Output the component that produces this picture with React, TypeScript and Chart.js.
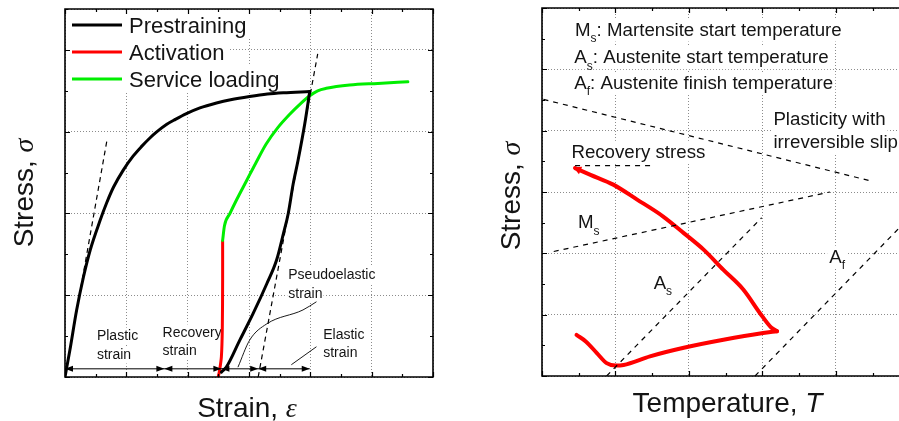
import React, { useEffect, useRef } from 'react';
import { Chart, registerables } from 'chart.js';
Chart.register(...registerables);

const SANS = '"Liberation Sans", Arial, sans-serif';
const SERIF = '"Liberation Serif", "Times New Roman", serif';
const INK = '#141414';

// ---------- Left panel data (strain vs stress) ----------
const prestrainLoadX = [0, 0.08, 0.19, 0.3, 0.41, 0.57, 0.68, 0.79, 0.95, 1.11, 1.25, 1.38, 1.5, 1.66, 1.8, 1.98, 2.2, 2.47, 2.7, 3.01, 3.3, 3.56, 3.99];
const prestrainLoadY = [0, 0.33, 0.82, 1.22, 1.55, 1.91, 2.13, 2.32, 2.53, 2.7, 2.82, 2.92, 3.0, 3.09, 3.15, 3.22, 3.29, 3.35, 3.39, 3.43, 3.46, 3.475, 3.49];
const prestrainUnloadX = [2.55, 2.63, 2.85, 3.07, 3.29, 3.45, 3.56, 3.64, 3.72, 3.8, 3.91, 3.99];
const prestrainUnloadY = [0.06, 0.12, 0.45, 0.78, 1.14, 1.43, 1.75, 2.0, 2.36, 2.65, 3.1, 3.49];
const activationX = [2.57, 2.57, 2.565, 2.55, 2.52, 2.49];
const activationY = [1.67, 1.2, 0.6, 0.25, 0.08, -0.03];
const serviceX = [2.57, 2.6, 2.69, 2.8, 2.96, 3.12, 3.28, 3.47, 3.66, 3.85, 3.99, 4.12, 4.26, 4.64, 5.1, 5.59];
const serviceY = [1.67, 1.85, 2.0, 2.17, 2.4, 2.63, 2.85, 3.05, 3.21, 3.35, 3.44, 3.5, 3.53, 3.57, 3.59, 3.61];
const tangentAX = [0, 0.69];
const tangentAY = [0, 2.92];
const tangentBX = [3.15, 4.12];
const tangentBY = [0, 3.95];
const strainBounds = [0, 1.62, 2.55, 3.15, 3.99];
const strainArrowLevel = 0.1;
const pseudoLeaderX = [2.82, 3.01, 3.29, 3.88, 4.1];
const pseudoLeaderY = [0.12, 0.45, 0.65, 0.82, 0.92];
const elasticLeaderX = [3.69, 4.1];
const elasticLeaderY = [0.15, 0.37];
const leftLegend = ['Prestraining', 'Activation', 'Service loading'];

// ---------- Right panel data (temperature vs stress) ----------
const recoveryLowerT = [0.47, 0.6, 0.75, 0.88, 1.0, 1.11, 1.47, 1.93, 2.47, 3.01, 3.2];
const recoveryLowerS = [0.67, 0.56, 0.37, 0.21, 0.17, 0.18, 0.32, 0.46, 0.59, 0.7, 0.73];
const recoveryUpperT = [0.45, 0.66, 0.97, 1.29, 1.65, 1.93, 2.2, 2.47, 2.74, 2.97, 3.12, 3.2];
const recoveryUpperS = [3.39, 3.28, 3.12, 2.88, 2.6, 2.33, 2.06, 1.73, 1.41, 1.02, 0.79, 0.73];
const plasticityT = [0.02, 4.51];
const plasticityS = [4.51, 3.17];
const msLineT = [0.16, 3.92];
const msLineS = [2.03, 3.0];
const asLineT = [0.88, 2.99];
const asLineS = [0, 2.58];
const afLineT = [2.9, 4.86];
const afLineS = [0, 2.41];
const recoveryStressT = [0.45, 1.53];
const recoveryStressS = [3.43, 3.43];

type Seg = { t: string; k?: 'sub' | 'greek' | 'ital' };

const pts = (xs: number[], ys: number[]) => xs.map((x, i) => ({ x, y: ys[i] }));

function segFont(s: Seg, size: number) {
  if (s.k === 'sub') return `${Math.round(size * 0.66)}px ${SANS}`;
  if (s.k === 'greek') return `italic ${size}px ${SERIF}`;
  if (s.k === 'ital') return `italic ${size}px ${SANS}`;
  return `${size}px ${SANS}`;
}
function measureSegs(ctx: CanvasRenderingContext2D, segs: Seg[], size: number) {
  let w = 0;
  for (const s of segs) {
    ctx.font = segFont(s, size);
    w += ctx.measureText(s.t).width;
  }
  return w;
}
function drawSegs(ctx: CanvasRenderingContext2D, segs: Seg[], x: number, y: number, size: number) {
  let cx = x;
  ctx.fillStyle = INK;
  ctx.textBaseline = 'alphabetic';
  ctx.textAlign = 'left';
  for (const s of segs) {
    ctx.font = segFont(s, size);
    ctx.fillText(s.t, cx, y + (s.k === 'sub' ? size * 0.34 : 0));
    cx += ctx.measureText(s.t).width;
  }
}

type Label = { segs: Seg[]; x: number; y: number };

function drawLabels(chart: any, labels: Label[], size: number, pad: number) {
  const ctx: CanvasRenderingContext2D = chart.ctx;
  const xs = chart.scales.x;
  const ys = chart.scales.y;
  ctx.save();
  for (const l of labels) {
    const px = xs.getPixelForValue(l.x);
    const py = ys.getPixelForValue(l.y);
    const w = measureSegs(ctx, l.segs, size);
    ctx.fillStyle = '#ffffff';
    ctx.fillRect(px - pad, py - size * 0.9, w + 2 * pad, size * 1.22);
    drawSegs(ctx, l.segs, px, py, size);
  }
  ctx.restore();
}

function drawFrame(chart: any, sides: { right: boolean }) {
  const ctx: CanvasRenderingContext2D = chart.ctx;
  const a = chart.chartArea;
  const xs = chart.scales.x;
  const ys = chart.scales.y;
  ctx.save();
  ctx.strokeStyle = '#000';
  ctx.lineWidth = 1.2;
  ctx.beginPath();
  for (let v = xs.min; v <= xs.max + 1e-9; v += 0.5) {
    const p = Math.round(xs.getPixelForValue(v)) + 0.5;
    const len = Math.abs(v - Math.round(v)) < 1e-6 ? 5 : 3;
    ctx.moveTo(p, a.bottom);
    ctx.lineTo(p, a.bottom - len);
    ctx.moveTo(p, a.top);
    ctx.lineTo(p, a.top + len);
  }
  for (let v = ys.min; v <= ys.max + 1e-9; v += 0.5) {
    const p = Math.round(ys.getPixelForValue(v)) + 0.5;
    const len = Math.abs(v - Math.round(v)) < 1e-6 ? 5 : 3;
    ctx.moveTo(a.left, p);
    ctx.lineTo(a.left + len, p);
    if (sides.right) {
      ctx.moveTo(a.right, p);
      ctx.lineTo(a.right - len, p);
    }
  }
  ctx.stroke();
  ctx.lineWidth = 1.6;
  ctx.beginPath();
  if (sides.right) {
    ctx.rect(a.left, a.top, a.right - a.left, a.bottom - a.top);
  } else {
    ctx.moveTo(a.right + 2, a.top);
    ctx.lineTo(a.left, a.top);
    ctx.lineTo(a.left, a.bottom);
    ctx.lineTo(a.right + 2, a.bottom);
  }
  ctx.stroke();
  ctx.restore();
}

function drawAxisTitles(chart: any, xt: Seg[], yt: Seg[], xBase: number, xShift: number, yBase: number, yShift: number) {
  const ctx: CanvasRenderingContext2D = chart.ctx;
  const a = chart.chartArea;
  const size = 28;
  ctx.save();
  const wx = measureSegs(ctx, xt, size);
  drawSegs(ctx, xt, (a.left + a.right) / 2 + xShift - wx / 2, a.bottom + xBase, size);
  const wy = measureSegs(ctx, yt, size);
  ctx.translate(a.left - yBase, (a.top + a.bottom) / 2 + yShift);
  ctx.rotate(-Math.PI / 2);
  drawSegs(ctx, yt, -wy / 2, 0, size);
  ctx.restore();
}

function lineDs(xs: number[], ys: number[], color: string, width: number, extra: any = {}) {
  return {
    data: pts(xs, ys),
    showLine: true,
    borderColor: color,
    backgroundColor: color,
    borderWidth: width,
    pointRadius: 0,
    tension: 0,
    ...extra,
  };
}
const smooth = { cubicInterpolationMode: 'monotone', borderCapStyle: 'round', borderJoinStyle: 'round' };

function baseOptions(padding: any, xmax: number, ymax: number) {
  const grid = { color: '#8c8c8c', lineWidth: 1, drawTicks: false };
  const border = { display: false, dash: [1, 2] };
  return {
    animation: false,
    responsive: false,
    maintainAspectRatio: false,
    events: [],
    layout: { padding },
    plugins: { legend: { display: false }, tooltip: { enabled: false } },
    scales: {
      x: { type: 'linear', min: 0, max: xmax, ticks: { display: false, stepSize: 1 }, grid, border },
      y: { type: 'linear', min: 0, max: ymax, ticks: { display: false, stepSize: 1 }, grid, border },
    },
  };
}

function leftConfig() {
  const dash = { borderDash: [5, 4] };
  const overlay = {
    id: 'leftOverlay',
    beforeDatasetsDraw(chart: any) {
      const ctx: CanvasRenderingContext2D = chart.ctx;
      const a = chart.chartArea;
      const colors = ['#000000', '#ff0000', '#00ee00'];
      ctx.save();
      leftLegend.forEach((lab, i) => {
        const cy = a.top + 16 + 27 * i;
        ctx.font = `22px ${SANS}`;
        const w = ctx.measureText(lab).width;
        ctx.fillStyle = '#fff';
        ctx.fillRect(a.left + 1, cy - 13.5, 64 + w + 3, 27);
        ctx.strokeStyle = colors[i];
        ctx.lineWidth = 3;
        ctx.beginPath();
        ctx.moveTo(a.left + 7, cy);
        ctx.lineTo(a.left + 57, cy);
        ctx.stroke();
        drawSegs(ctx, [{ t: lab }], a.left + 64, cy + 8, 22);
      });
      ctx.restore();
      drawLabels(chart, [
        { segs: [{ t: 'Plastic' }], x: 0.52, y: 0.45 },
        { segs: [{ t: 'strain' }], x: 0.52, y: 0.22 },
        { segs: [{ t: 'Recovery' }], x: 1.59, y: 0.49 },
        { segs: [{ t: 'strain' }], x: 1.59, y: 0.27 },
        { segs: [{ t: 'Pseudoelastic' }], x: 3.64, y: 1.2 },
        { segs: [{ t: 'strain' }], x: 3.64, y: 0.97 },
        { segs: [{ t: 'Elastic' }], x: 4.21, y: 0.47 },
        { segs: [{ t: 'strain' }], x: 4.21, y: 0.24 },
      ], 14, 1);
    },
    afterDatasetsDraw(chart: any) {
      const ctx: CanvasRenderingContext2D = chart.ctx;
      const xs = chart.scales.x;
      const ys = chart.scales.y;
      const py = ys.getPixelForValue(strainArrowLevel);
      ctx.save();
      ctx.fillStyle = '#000';
      const head = (tip: number, dir: number) => {
        ctx.beginPath();
        ctx.moveTo(tip, py);
        ctx.lineTo(tip - dir * 8, py - 3);
        ctx.lineTo(tip - dir * 8, py + 3);
        ctx.closePath();
        ctx.fill();
      };
      strainBounds.forEach((b, i) => {
        const px = xs.getPixelForValue(b);
        if (i > 0) head(px, 1);
        if (i < strainBounds.length - 1) head(px, -1);
      });
      ctx.restore();
      drawFrame(chart, { right: true });
      drawAxisTitles(chart, [{ t: 'Strain, ' }, { t: 'ε', k: 'greek' }], [{ t: 'Stress, ' }, { t: 'σ', k: 'greek' }], 40, -2, 32, 0);
    },
  };
  return {
    type: 'scatter',
    data: {
      datasets: [
        lineDs(tangentAX, tangentAY, '#000', 1.2, dash),
        lineDs(tangentBX, tangentBY, '#000', 1.2, dash),
        lineDs([strainBounds[0], strainBounds[strainBounds.length - 1]], [strainArrowLevel, strainArrowLevel], '#000', 1),
        lineDs(pseudoLeaderX, pseudoLeaderY, '#000', 0.9, { cubicInterpolationMode: 'monotone' }),
        lineDs(elasticLeaderX, elasticLeaderY, '#000', 0.9),
        lineDs(prestrainLoadX, prestrainLoadY, '#000', 3, smooth),
        lineDs(prestrainUnloadX, prestrainUnloadY, '#000', 3, smooth),
        lineDs(serviceX, serviceY, '#00ee00', 3, smooth),
        lineDs(activationX, activationY, '#ff0000', 3, { tension: 0.3 }),
      ],
    },
    options: baseOptions({ left: 65, right: 17, top: 9, bottom: 44 }, 6, 4.5),
    plugins: [overlay],
  };
}

function rightConfig() {
  const dash = { borderDash: [5, 5] };
  const overlay = {
    id: 'rightOverlay',
    beforeDatasetsDraw(chart: any) {
      drawLabels(chart, [
        { segs: [{ t: 'M' }, { t: 's', k: 'sub' }, { t: ': Martensite start temperature' }], x: 0.45, y: 5.55 },
        { segs: [{ t: 'A' }, { t: 's', k: 'sub' }, { t: ': Austenite start temperature' }], x: 0.44, y: 5.1 },
        { segs: [{ t: 'A' }, { t: 'f', k: 'sub' }, { t: ': Austenite finish temperature' }], x: 0.44, y: 4.68 },
        { segs: [{ t: 'Plasticity with' }], x: 3.15, y: 4.09 },
        { segs: [{ t: 'irreversible slip' }], x: 3.15, y: 3.72 },
        { segs: [{ t: 'Recovery stress' }], x: 0.4, y: 3.56 },
        { segs: [{ t: 'M' }, { t: 's', k: 'sub' }], x: 0.49, y: 2.41 },
        { segs: [{ t: 'A' }, { t: 's', k: 'sub' }], x: 1.52, y: 1.42 },
        { segs: [{ t: 'A' }, { t: 'f', k: 'sub' }], x: 3.91, y: 1.85 },
      ], 18.7, 2);
    },
    afterDatasetsDraw(chart: any) {
      const ctx: CanvasRenderingContext2D = chart.ctx;
      const xs = chart.scales.x;
      const ys = chart.scales.y;
      const tx = xs.getPixelForValue(recoveryUpperT[0]);
      const ty = ys.getPixelForValue(recoveryUpperS[0]);
      const bx = xs.getPixelForValue(recoveryUpperT[1]);
      const by = ys.getPixelForValue(recoveryUpperS[1]);
      const ang = Math.atan2(ty - by, tx - bx);
      ctx.save();
      ctx.translate(tx, ty);
      ctx.rotate(ang);
      ctx.fillStyle = '#ff0000';
      ctx.beginPath();
      ctx.moveTo(2, 0);
      ctx.lineTo(-6, -4);
      ctx.lineTo(-6, 4);
      ctx.closePath();
      ctx.fill();
      ctx.restore();
      drawFrame(chart, { right: false });
      drawAxisTitles(chart, [{ t: 'Temperature, ' }, { t: 'T', k: 'ital' }], [{ t: 'Stress, ' }, { t: 'σ', k: 'greek' }], 36, 7, 22, 4);
    },
  };
  return {
    type: 'scatter',
    data: {
      datasets: [
        lineDs(plasticityT, plasticityS, '#000', 1.2, dash),
        lineDs(msLineT, msLineS, '#000', 1.2, dash),
        lineDs(asLineT, asLineS, '#000', 1.2, dash),
        lineDs(afLineT, afLineS, '#000', 1.2, dash),
        lineDs(recoveryStressT, recoveryStressS, '#000', 1.2, dash),
        lineDs(recoveryLowerT, recoveryLowerS, '#ff0000', 4, smooth),
        lineDs(recoveryUpperT, recoveryUpperS, '#ff0000', 4, smooth),
      ],
    },
    options: baseOptions({ left: 92, right: 0, top: 8, bottom: 45 }, 4.86, 6),
    plugins: [overlay],
  };
}

function ChartCanvas({ make, width, height }: { make: () => any; width: number; height: number }) {
  const ref = useRef<HTMLCanvasElement | null>(null);
  useEffect(() => {
    if (!ref.current) return;
    const chart = new Chart(ref.current, make());
    return () => chart.destroy();
  }, [make]);
  return <canvas ref={ref} width={width} height={height} style={{ display: 'block', width, height }} />;
}

export default function App() {
  return (
    <div style={{ position: 'absolute', left: 0, top: 0, width: 899, height: 421, background: '#fff', overflow: 'hidden' }}>
      <div style={{ position: 'absolute', left: 0, top: 0 }}>
        <ChartCanvas make={leftConfig} width={450} height={421} />
      </div>
      <div style={{ position: 'absolute', left: 450, top: 0 }}>
        <ChartCanvas make={rightConfig} width={449} height={421} />
      </div>
    </div>
  );
}
